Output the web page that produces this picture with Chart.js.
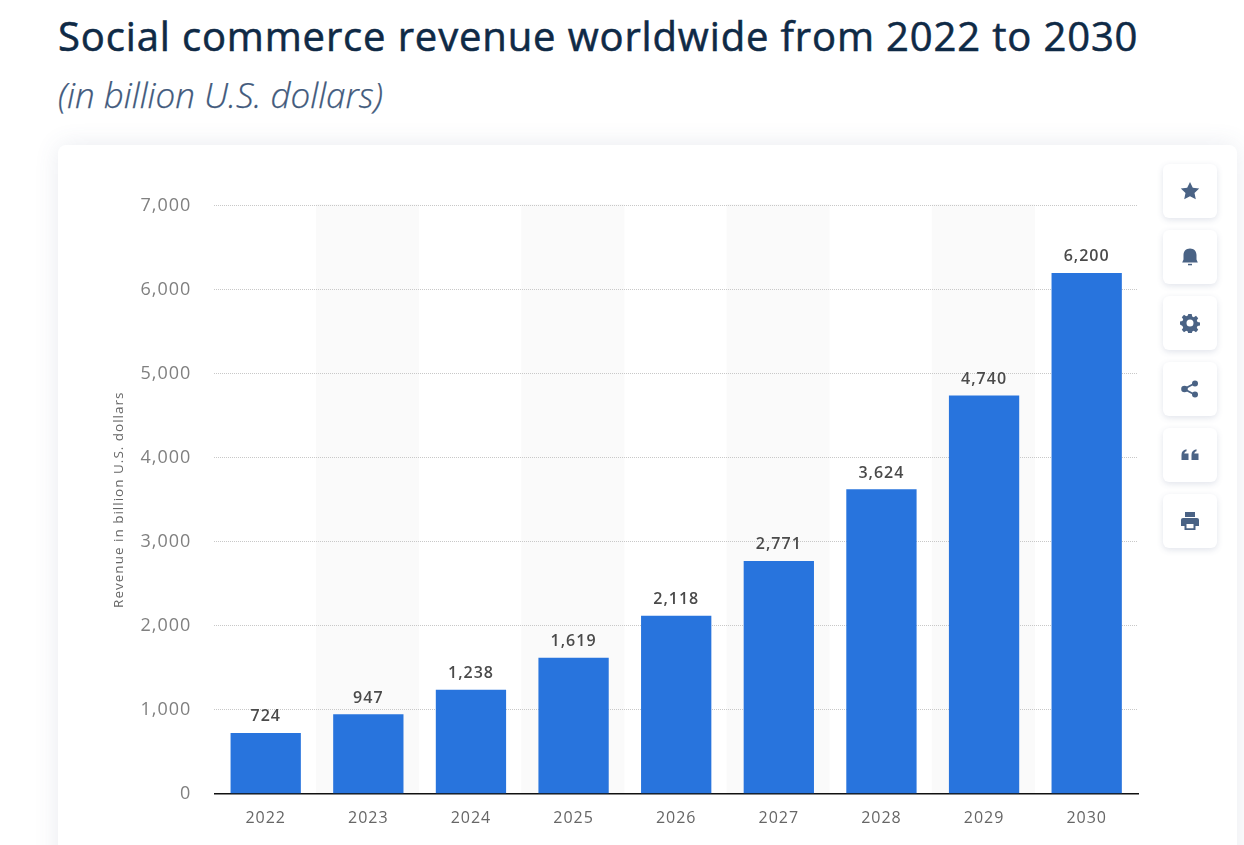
<!DOCTYPE html>
<html>
<head>
<meta charset="utf-8">
<title>Social commerce revenue</title>
<script src="https://cdn.jsdelivr.net/npm/chart.js@4/dist/chart.umd.min.js"></script>
<style>
  html, body { margin: 0; height: 100%; overflow: hidden; background: #fff; }
  body { position: relative; width: 1244px; height: 845px; font-family: "Open Sans", sans-serif; }
  h1 { position: absolute; left: 58px; top: 9px; margin: 0; font-size: 40px; line-height: 54px; font-weight: 500; color: #0f2a46; letter-spacing: 0.85px; -webkit-text-stroke: 0.55px #0f2a46; white-space: nowrap; }
  h2 { position: absolute; left: 58px; top: 72px; margin: 0; font-size: 35px; line-height: 46px; font-weight: 300; font-style: italic; color: #425a7c; -webkit-text-stroke: 0.25px #425a7c; white-space: nowrap; }
  .card { position: absolute; left: 58px; top: 145px; width: 1179px; height: 760px; background: #fff; border-radius: 8px; box-shadow: 0 0 24px rgba(70, 90, 130, 0.12); }
  #chartWrap { position: absolute; left: 58px; top: 145px; width: 1100px; height: 700px; }
  .btn { position: absolute; left: 1163px; width: 54px; height: 54px; background: #fff; border-radius: 6px; box-shadow: 0 2px 6px rgba(70, 90, 130, 0.16); }
  .btn svg { position: absolute; left: 17px; top: 17px; width: 20px; height: 20px; fill: #4a6385; }
</style>
</head>
<body>
<h1>Social commerce revenue worldwide from 2022 to 2030</h1>
<h2>(in billion U.S. dollars)</h2>
<div class="card"></div>
<div id="chartWrap"><canvas id="myChart"></canvas></div>

<div class="btn" style="top:164px"><svg viewBox="0 0 20 20"><path d="M10 1l2.800 5.800 6.400.8-4.700 4.400 1.300 6.300L10 15.200l-5.800 3.100 1.300-6.300L.8 7.600l6.400-.8z"/></svg></div>
<div class="btn" style="top:230px"><svg viewBox="0 0 20 20"><path d="M10 1.500c4 0 6.500 2.800 6.500 6.500v4.500l1.300 3H2.200l1.300-3V8c0-3.700 2.500-6.500 6.500-6.500z"/><rect x="8" y="16.800" width="4" height="1.500"/></svg></div>
<div class="btn" style="top:296px"><svg viewBox="0 0 20 20"><path fill-rule="evenodd" d="M8.300 1h3.400l.5 2.500 1.600.7 2.200-1.400 2.200 2.400-1.400 2.100.7 1.700 2.500.5v3l-2.500.5-.7 1.700 1.400 2.100-2.200 2.400-2.200-1.400-1.600.7-.5 2.500H8.300l-.5-2.500-1.600-.7-2.200 1.400-2.200-2.400 1.400-2.100-.7-1.700L0 11.500v-3l2.500-.5.7-1.700-1.400-2.100L4 1.800l2.200 1.400 1.600-.7zM10 6.500a3.500 3.500 0 1 0 0 7 3.500 3.500 0 0 0 0-7z"/></svg></div>
<div class="btn" style="top:362px"><svg viewBox="0 0 20 20"><circle cx="15" cy="4.500" r="3"/><circle cx="15" cy="15.500" r="3"/><circle cx="4.500" cy="10" r="3.300"/><path d="M4 9l10.500-5.500.8 1.600L6 10l9.300 4.900-.8 1.600L4 11z"/></svg></div>
<div class="btn" style="top:428px"><svg viewBox="0 0 20 20"><path d="M1.500 10c0-3 1.500-5.200 5-5.700v2C5 6.700 4.400 7.500 4.300 8.500h4.200V15h-7zM11.500 10c0-3 1.500-5.200 5-5.700v2c-1.500.4-2.100 1.200-2.200 2.200h4.200V15h-7z"/></svg></div>
<div class="btn" style="top:494px"><svg viewBox="0 0 20 20"><path fill-rule="evenodd" d="M5 1h10v5H5zM3 7h14c1.200 0 2 .8 2 2v6h-3.500v4h-11v-4H1V9c0-1.200.8-2 2-2zM6.500 13v4.200h7V13z"/></svg></div>

<script>
var categories = ['2022', '2023', '2024', '2025', '2026', '2027', '2028', '2029', '2030'];
var revenue = [724, 947, 1238, 1619, 2118, 2771, 3624, 4740, 6200];
var yTicks = [0, 1000, 2000, 3000, 4000, 5000, 6000, 7000];
var axisTitle = 'Revenue in billion U.S. dollars';
var font = '"Open Sans", sans-serif';

// grey stripes behind every second year
var stripes = {
    id: 'stripes',
    beforeDraw: function(chart) {
        var ctx = chart.ctx, x = chart.scales.x, area = chart.chartArea;
        var half = (x.getPixelForValue(1) - x.getPixelForValue(0)) / 2;
        ctx.save();
        ctx.fillStyle = '#fafafa';
        categories.forEach(function(c, i) {
            if (i % 2 === 1) {
                ctx.fillRect(x.getPixelForValue(i) - half - 1, area.top - 1.5, half * 2 + 0.5, area.bottom - area.top + 1.5);
            }
        });
        ctx.restore();
    }
};

// axis text is letter spaced in the original
var spacing = {
    id: 'spacing',
    beforeDraw: function(chart) { chart.ctx.letterSpacing = '1px'; },
    afterDraw: function(chart) { chart.ctx.letterSpacing = '0px'; }
};

// value above each bar
var barLabels = {
    id: 'barLabels',
    afterDatasetsDraw: function(chart) {
        var ctx = chart.ctx;
        ctx.save();
        ctx.font = '600 16px ' + font;
        ctx.fillStyle = '#4a4a4a';
        ctx.textAlign = 'center';
        ctx.textBaseline = 'bottom';
        ctx.letterSpacing = '1px';
        chart.getDatasetMeta(0).data.forEach(function(bar, i) {
            ctx.fillText(revenue[i].toLocaleString('en-US'), bar.x, bar.y - 8);
        });
        ctx.restore();
    }
};

new Chart(document.getElementById('myChart').getContext('2d'), {
    type: 'bar',
    data: {
        labels: categories,
        datasets: [{
            data: revenue,
            backgroundColor: '#2874dd',
            categoryPercentage: 1,
            barPercentage: 0.685
        }]
    },
    options: {
        responsive: true,
        maintainAspectRatio: false,
        animation: false,
        layout: { padding: { top: 60.7, right: 20, bottom: 0, left: 53 } },
        plugins: { legend: { display: false }, tooltip: { enabled: false } },
        scales: {
            x: {
                afterFit: function(scale) { scale.height = 51.3; },
                grid: { display: false },
                border: { color: '#111', width: 1.5 },
                ticks: { color: '#666', padding: 7, maxRotation: 0, font: { family: font, size: 16 } }
            },
            y: {
                min: 0,
                max: 7000,
                afterFit: function(scale) { scale.width = 103.4; },
                afterBuildTicks: function(scale) {
                    scale.ticks = yTicks.map(function(v) { return { value: v }; });
                },
                grid: { color: '#c8c8c8', lineWidth: 1, drawTicks: false },
                border: { display: false, dash: [1, 1] },
                title: { display: true, text: axisTitle, color: '#666', padding: { top: 0, bottom: 0 }, font: { family: font, size: 13.5 } },
                ticks: {
                    color: '#808080',
                    padding: 23,
                    font: { family: font, size: 18 },
                    callback: function(v) { return v.toLocaleString('en-US'); }
                }
            }
        }
    },
    plugins: [spacing, stripes, barLabels]
});
</script>
</body>
</html>
